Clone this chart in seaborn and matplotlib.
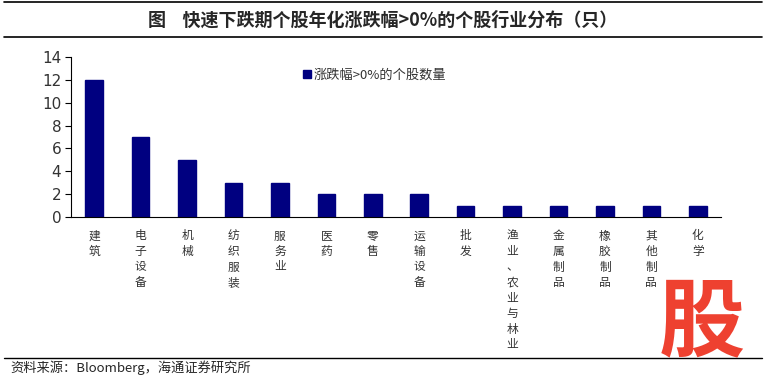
import matplotlib
matplotlib.use("Agg")
import matplotlib.pyplot as plt
import seaborn as sns
import pandas as pd
from matplotlib.lines import Line2D

categories = ["建筑", "电子设备", "机械", "纺织服装", "服务业", "医药", "零售", "运输设备",
              "批发", "渔业、农业与林业", "金属制品", "橡胶制品", "其他制品", "化学"]
values = [12, 7, 5, 3, 3, 2, 2, 2, 1, 1, 1, 1, 1, 1]
yticks = [0, 2, 4, 6, 8, 10, 12, 14]
series_name = "涨跌幅>0%的个股数量"
title = "图    快速下跌期个股年化涨跌幅>0%的个股行业分布（只）"
source = "资料来源：Bloomberg，海通证券研究所"

sns.set_style("white")
plt.rcParams['font.family'] = ['Noto Sans CJK SC', 'DejaVu Sans']

df = pd.DataFrame({"cat": categories, "val": values})

fig = plt.figure(figsize=(7.66, 3.79), dpi=100)
ax = fig.add_axes([71/766, 1-217/379, 650/766, 160/379])
sns.barplot(data=df, x="cat", y="val", color="#000080", width=0.38, ax=ax,
            saturation=1, edgecolor="#000080")

ax.set_xlim(-0.5, len(categories) - 0.5)
ax.set_ylim(0, 14)
ax.set_yticks(yticks)
ax.set_yticklabels([str(t) for t in yticks], fontsize=11, color="#333333",
                   family=['DejaVu Sans'])
ax.set_xlabel("")
ax.set_ylabel("")
ax.set_xticks(range(len(categories)))
ax.set_xticklabels(["\n".join(c) for c in categories], fontsize=8.5, color="#333333",
                   linespacing=1.25, va="top")
ax.tick_params(axis="x", length=0, pad=9)
ax.set_xticks([i - 0.5 for i in range(len(categories) + 1)], minor=True)
ax.tick_params(axis="x", which="minor", length=5, width=0.8, color="black", direction="out")
ax.tick_params(axis="y", length=4, width=0.8, color="black", direction="out", left=True, pad=3)
for s in ["top", "right"]:
    ax.spines[s].set_visible(False)
for s in ["left", "bottom"]:
    ax.spines[s].set_color("black")
    ax.spines[s].set_linewidth(0.8)

handle = Line2D([], [], marker="s", linestyle="none", color="#000080", markersize=5.5)
ax.legend([handle], [series_name], loc="upper left", bbox_to_anchor=(0.335, 1.0),
          frameon=False, fontsize=9.5, handletextpad=0.0, handlelength=1.0,
          labelcolor="#333333")

fig.text(0.5, 1-20/379, title, ha="center", va="center", fontsize=13, fontweight="bold")
fig.add_artist(Line2D([0.005, 0.995], [1-2/379, 1-2/379], color="black", lw=1.2))
fig.add_artist(Line2D([0.005, 0.995], [1-37/379, 1-37/379], color="black", lw=1.2))
fig.add_artist(Line2D([0.005, 0.995], [1-358/379, 1-358/379], color="black", lw=1.0))
fig.text(10/766, 1-368/379, source, ha="left", va="center", fontsize=9.5)
fig.text(702/766, 1-324/379, "股", ha="center", va="center", fontsize=62,
         fontweight="black", color="#EE4130", style="italic")

fig.savefig("out.png", dpi=100)
